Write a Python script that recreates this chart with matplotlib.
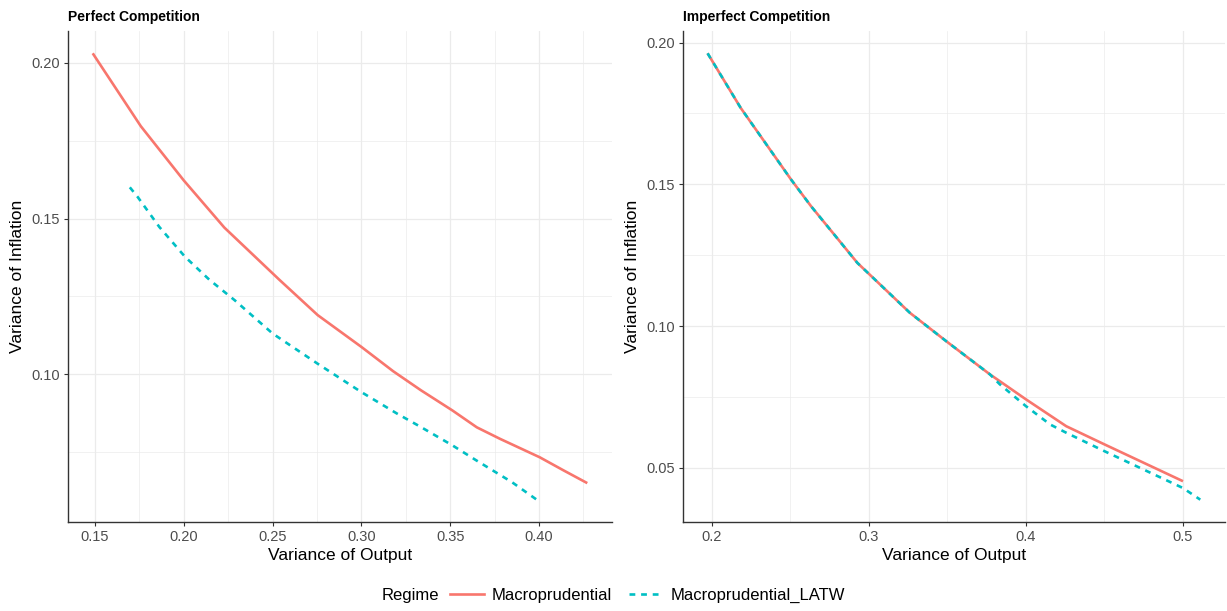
import matplotlib
matplotlib.use("Agg")
import matplotlib.pyplot as plt
from matplotlib.ticker import MultipleLocator, FixedLocator
from matplotlib.lines import Line2D
from matplotlib.offsetbox import HPacker

plt.rcParams['font.family'] = ['Liberation Sans', 'DejaVu Sans']

# ---- Data ----
pc_macro_x = [0.1487, 0.1758, 0.2000, 0.2228, 0.2537, 0.2754, 0.3000, 0.3179, 0.3335,
              0.3513, 0.3650, 0.3781, 0.4004, 0.4138, 0.4272]
pc_macro_y = [0.2030, 0.1796, 0.1622, 0.1471, 0.1304, 0.1190, 0.1088, 0.1010, 0.0949,
              0.0884, 0.0830, 0.0793, 0.0734, 0.0692, 0.0651]
pc_latw_x = [0.1696, 0.1739, 0.1862, 0.2007, 0.2143, 0.2286, 0.2500, 0.2754, 0.3000,
             0.3201, 0.3335, 0.3513, 0.3647, 0.3848, 0.3987]
pc_latw_y = [0.1600, 0.1570, 0.1473, 0.1377, 0.1304, 0.1238, 0.1131, 0.1034, 0.0943,
             0.0874, 0.0831, 0.0772, 0.0724, 0.0654, 0.0598]

ic_macro_x = [0.1975, 0.2185, 0.2506, 0.2633, 0.2928, 0.3262, 0.3500, 0.3771, 0.4000,
              0.4257, 0.4500, 0.5000]
ic_macro_y = [0.1962, 0.1770, 0.1517, 0.1423, 0.1223, 0.1047, 0.0944, 0.0830, 0.0742,
              0.0647, 0.0583, 0.0453]
ic_latw_x = [0.1975, 0.2185, 0.2506, 0.2633, 0.2928, 0.3262, 0.3500, 0.3771, 0.3834,
             0.4000, 0.4155, 0.4257, 0.4500, 0.5000, 0.5110]
ic_latw_y = [0.1962, 0.1770, 0.1517, 0.1423, 0.1223, 0.1047, 0.0944, 0.0830, 0.0795,
             0.0718, 0.0653, 0.0624, 0.0559, 0.0429, 0.0388]

series_names = ["Macroprudential", "Macroprudential_LATW"]
titles = ["Perfect Competition", "Imperfect Competition"]
pc_xticks = [0.15, 0.20, 0.25, 0.30, 0.35, 0.40]
pc_yticks = [0.10, 0.15, 0.20]
ic_xticks = [0.2, 0.3, 0.4, 0.5]
ic_yticks = [0.05, 0.10, 0.15, 0.20]

RED = "#F8766D"
CYAN = "#00BFC4"
GRID = "#EBEBEB"
TXT = "#4D4D4D"

fig = plt.figure(figsize=(12.27, 6.11), dpi=100)
ax1 = fig.add_axes([0.0554, 0.1457, 0.4434, 0.8036])
ax2 = fig.add_axes([0.5566, 0.1457, 0.4417, 0.8036])

def expand(vals):
    lo, hi = min(vals), max(vals)
    r = hi - lo
    return lo - 0.05 * r, hi + 0.05 * r

panels = [
    (ax1, pc_macro_x, pc_macro_y, pc_latw_x, pc_latw_y, pc_xticks, pc_yticks, "{:.2f}", titles[0], 0.025),
    (ax2, ic_macro_x, ic_macro_y, ic_latw_x, ic_latw_y, ic_xticks, ic_yticks, "{:.1f}", titles[1], 0.05),
]

for ax, mx, my, lx, ly, xt, yt, fmt, title, xminor in panels:
    ax.plot(mx, my, color=RED, lw=1.9, solid_capstyle='butt', solid_joinstyle='round', zorder=3)
    ax.plot(lx, ly, color=CYAN, lw=1.9, dashes=(2.2, 2.2), dash_capstyle='butt', zorder=4)
    ax.set_xlim(*expand(mx + lx))
    ax.set_ylim(*expand(my + ly))
    ax.xaxis.set_major_locator(FixedLocator(xt))
    ax.yaxis.set_major_locator(FixedLocator(yt))
    ax.xaxis.set_minor_locator(MultipleLocator(xminor))
    ax.yaxis.set_minor_locator(MultipleLocator(0.025))
    ax.set_xticklabels([fmt.format(v) for v in xt])
    ax.set_yticklabels(["{:.2f}".format(v) for v in yt])
    ax.grid(True, which='major', color=GRID, lw=0.9, zorder=0)
    ax.grid(True, which='minor', color=GRID, lw=0.5, zorder=0)
    ax.set_axisbelow(True)
    for s in ['top', 'right']:
        ax.spines[s].set_visible(False)
    for s in ['left', 'bottom']:
        ax.spines[s].set_color('#333333')
        ax.spines[s].set_linewidth(1.0)
    ax.tick_params(which='major', length=3, width=0.8, color='#333333',
                   labelsize=10.5, labelcolor=TXT, pad=3)
    ax.tick_params(which='minor', length=0)
    ax.set_xlabel("Variance of Output", fontsize=12.5, color='black', labelpad=3)
    ax.set_ylabel("Variance of Inflation", fontsize=12.5, color='black', labelpad=4)
    ax.set_title(title, loc='left', fontsize=10, fontweight='bold', pad=7)

handles = [Line2D([], [], color=RED, lw=1.9),
           Line2D([], [], color=CYAN, lw=1.9, dashes=(2.2, 2.2))]
leg = fig.legend(handles, series_names, title="Regime", loc='center',
                 bbox_to_anchor=(0.5, 0.025), ncol=2, frameon=False,
                 fontsize=12, title_fontsize=12, handlelength=2.0,
                 columnspacing=1.0, handletextpad=0.5)
title_box = leg._legend_title_box
entries = leg._legend_handle_box
leg._legend_box._children = [HPacker(children=[title_box, entries], align="center", pad=0, sep=8)]

fig.savefig("out.png", dpi=100)
